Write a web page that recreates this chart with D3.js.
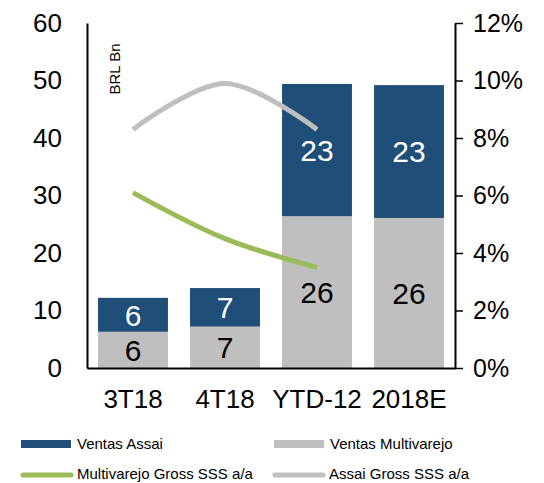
<!DOCTYPE html>
<html>
<head>
<script src="https://cdn.jsdelivr.net/npm/d3@7"></script>
<style>
  body { margin: 0; background: #fff; font-family: "Liberation Sans", Arial, sans-serif; }
  .line { fill: none; stroke-width: 5px; }
</style>
</head>
<body>
<div id="chart"></div>
<script>
var categories = ['3T18', '4T18', 'YTD-12', '2018E'];
var multivarejo = [6.3, 7.2, 26.4, 26.1];
var assai = [5.9, 6.7, 23.0, 23.1];
var multiLabels = ['6', '7', '26', '26'];
var assaiLabels = ['6', '7', '23', '23'];
var sssCats = ['3T18', '4T18', 'YTD-12'];
var multiSSS = [6.1, 4.5, 3.5];
var assaiSSS = [8.3, 9.9, 8.3];
var leftTicks = [0, 10, 20, 30, 40, 50, 60];
var rightTicks = [0, 2, 4, 6, 8, 10, 12];

var width = 544, height = 483;
var plot = { left: 87, right: 455, top: 23, bottom: 368 };

var blue = '#1F4E79', grey = '#BFBFBF', green = '#9BBB59';
var font = '"Liberation Sans", Arial, sans-serif';

var svg = d3.select('#chart').append('svg')
    .attr('width', width)
    .attr('height', height);

var x = d3.scaleBand()
    .domain(categories)
    .range([plot.left, plot.right])
    .paddingInner(0.24)
    .paddingOuter(0.12);

var y = d3.scaleLinear().domain([0, 60]).range([plot.bottom, plot.top]);
var y2 = d3.scaleLinear().domain([0, 12]).range([plot.bottom, plot.top]);

// bars: multivarejo at the bottom, assai stacked on top
var g = svg.append('g');
g.selectAll('rect.multi')
    .data(categories)
    .enter().append('rect')
    .attr('x', function(d) { return x(d); })
    .attr('width', x.bandwidth())
    .attr('y', function(d, i) { return y(multivarejo[i]); })
    .attr('height', function(d, i) { return y(0) - y(multivarejo[i]); })
    .attr('fill', grey);

g.selectAll('rect.assai')
    .data(categories)
    .enter().append('rect')
    .attr('x', function(d) { return x(d); })
    .attr('width', x.bandwidth())
    .attr('y', function(d, i) { return y(multivarejo[i] + assai[i]); })
    .attr('height', function(d, i) { return y(multivarejo[i]) - y(multivarejo[i] + assai[i]); })
    .attr('fill', blue);

g.selectAll('text.ml')
    .data(categories)
    .enter().append('text')
    .attr('x', function(d) { return x(d) + x.bandwidth() / 2; })
    .attr('y', function(d, i) { return y(multivarejo[i] / 2); })
    .attr('dy', '0.36em')
    .attr('text-anchor', 'middle')
    .style('font-size', '30px')
    .attr('fill', '#000')
    .text(function(d, i) { return multiLabels[i]; });

g.selectAll('text.al')
    .data(categories)
    .enter().append('text')
    .attr('x', function(d) { return x(d) + x.bandwidth() / 2; })
    .attr('y', function(d, i) { return y(multivarejo[i] + assai[i] / 2); })
    .attr('dy', '0.36em')
    .attr('text-anchor', 'middle')
    .style('font-size', '30px')
    .attr('fill', '#fff')
    .text(function(d, i) { return assaiLabels[i]; });

// lines
var pen = function(vals) {
    return d3.line()
        .curve(d3.curveCatmullRom)
        .x(function(d, i) { return x(sssCats[i]) + x.bandwidth() / 2; })
        .y(function(d) { return y2(d); })(vals);
};
svg.append('path').attr('class', 'line').attr('stroke', grey).attr('d', pen(assaiSSS));
svg.append('path').attr('class', 'line').attr('stroke', green).attr('d', pen(multiSSS));

// axes
var leftAxis = d3.axisLeft(y).tickValues(leftTicks).tickSize(0).tickPadding(25);
var la = svg.append('g').attr('transform', 'translate(' + plot.left + ',0)').call(leftAxis);
la.select('.domain').attr('stroke', '#000').attr('stroke-width', 2);
la.selectAll('text').style('font-size', '26px').style('font-family', font).attr('fill', '#000');

var rightAxis = d3.axisRight(y2).tickValues(rightTicks).tickSize(8).tickSizeOuter(0).tickPadding(10)
    .tickFormat(function(d) { return d + '%'; });
var ra = svg.append('g').attr('transform', 'translate(' + plot.right + ',0)').call(rightAxis);
ra.select('.domain').attr('stroke', '#000').attr('stroke-width', 2);
ra.selectAll('.tick line').attr('stroke', '#000').attr('stroke-width', 1.5);
ra.selectAll('text').style('font-size', '25px').style('font-family', font).attr('fill', '#000');

var bottomAxis = d3.axisBottom(x).tickSize(0).tickPadding(22);
var ba = svg.append('g').attr('transform', 'translate(0,' + plot.bottom + ')').call(bottomAxis);
ba.select('.domain').attr('stroke', '#000').attr('stroke-width', 2);
ba.selectAll('text').style('font-size', '26px').style('font-family', font).attr('fill', '#000');

// unit label
svg.append('text')
    .attr('transform', 'translate(120,69) rotate(-90)')
    .attr('text-anchor', 'middle')
    .style('font-size', '15px')
    .text('BRL Bn');

// legend
var legend = [
    { name: 'Ventas Assai', color: blue, type: 'rect', x: 21, y: 444 },
    { name: 'Ventas Multivarejo', color: grey, type: 'rect', x: 274, y: 444 },
    { name: 'Multivarejo Gross SSS a/a', color: green, type: 'line', x: 21, y: 474 },
    { name: 'Assai Gross SSS a/a', color: grey, type: 'line', x: 273, y: 474 }
];
var lg = svg.selectAll('g.legend').data(legend).enter().append('g');
lg.filter(function(d) { return d.type === 'rect'; }).append('rect')
    .attr('x', function(d) { return d.x; })
    .attr('y', function(d) { return d.y - 4; })
    .attr('width', 50).attr('height', 8)
    .attr('fill', function(d) { return d.color; });
lg.filter(function(d) { return d.type === 'line'; }).append('line')
    .attr('x1', function(d) { return d.x + 2; })
    .attr('x2', function(d) { return d.x + 50; })
    .attr('y1', function(d) { return d.y + 1; })
    .attr('y2', function(d) { return d.y + 1; })
    .attr('stroke', function(d) { return d.color; })
    .attr('stroke-width', 5)
    .attr('stroke-linecap', 'round');
lg.append('text')
    .attr('x', function(d) { return d.x + 56; })
    .attr('y', function(d) { return d.y; })
    .attr('dy', '0.36em')
    .style('font-size', '15px')
    .text(function(d) { return d.name; });
</script>
</body>
</html>
